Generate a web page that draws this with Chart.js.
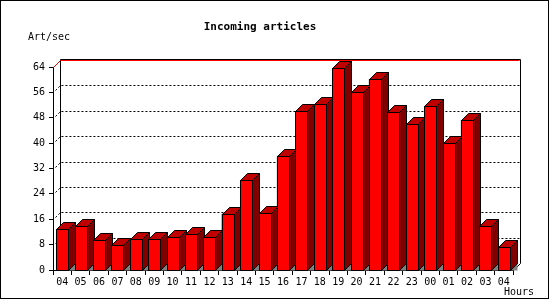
<!DOCTYPE html>
<html>
<head>
<meta charset="utf-8">
<script src="https://cdn.jsdelivr.net/npm/chart.js@4"></script>
<style>
  html, body { margin: 0; padding: 0; background: #fff; }
  #wrap { width: 550px; height: 300px; }
</style>
</head>
<body>
<div id="wrap"><canvas id="chart" width="550" height="300"></canvas></div>
<script>
// Data
const hours = ['04','05','06','07','08','09','10','11','12','13','14','15','16',
               '17','18','19','20','21','22','23','00','01','02','03','04'];
const artPerSec = [12.8, 13.8, 9.4, 7.8, 9.7, 9.7, 10.3, 11.3, 10.3, 17.7, 28.3, 18, 35.9,
                   50, 52.2, 63.6, 56, 60.2, 49.7, 45.9, 51.6, 39.9, 47.2, 14, 7.2];
const yTickValues = [0, 8, 16, 24, 32, 40, 48, 56, 64];

const DEPTH = 7;
const MONO = '"DejaVu Sans Mono", monospace';

// back wall, grid, 3d bars, frame
const wallPlugin = {
  id: 'wall',
  beforeDraw(chart) {
    const ctx = chart.ctx;
    ctx.save();
    ctx.fillStyle = '#fff';
    ctx.fillRect(0, 0, chart.width, chart.height);
    ctx.strokeStyle = '#000';
    ctx.lineWidth = 1;
    ctx.strokeRect(0.5, 0.5, chart.width - 2, chart.height - 2);
    ctx.restore();
  },
  beforeDatasetsDraw(chart) {
    const { ctx, chartArea: a, scales: { y } } = chart;
    const L = Math.round(a.left) + 0.5, R = Math.round(a.right) + 0.5, B = Math.round(a.bottom) + 0.5;
    ctx.save();
    ctx.lineWidth = 1;
    // dotted grid on the back wall
    ctx.strokeStyle = '#000';
    ctx.setLineDash([2, 2]);
    yTickValues.slice(1, -1).forEach(v => {
      const py = Math.round(y.getPixelForValue(v)) + 0.5;
      ctx.beginPath();
      ctx.moveTo(L + 2, py - 2);
      ctx.lineTo(L + DEPTH, py - DEPTH);
      ctx.lineTo(R + DEPTH, py - DEPTH);
      ctx.stroke();
    });
    ctx.setLineDash([]);
    // back wall frame
    const top = Math.round(y.getPixelForValue(64)) + 0.5;
    ctx.beginPath();
    ctx.moveTo(L + DEPTH, B - DEPTH);
    ctx.lineTo(L + DEPTH, top - DEPTH - 1);
    ctx.lineTo(R + DEPTH, top - DEPTH - 1);
    ctx.lineTo(R + DEPTH, B - DEPTH);
    ctx.lineTo(R, B);
    ctx.stroke();
    // red max line
    ctx.strokeStyle = '#ff0000';
    ctx.beginPath();
    ctx.moveTo(L, top);
    ctx.lineTo(L + DEPTH, top - DEPTH);
    ctx.lineTo(R + DEPTH - 1, top - DEPTH);
    ctx.stroke();
    ctx.restore();
  },
  afterDatasetsDraw(chart) {
    const ctx = chart.ctx;
    const meta = chart.getDatasetMeta(0);
    ctx.save();
    ctx.lineWidth = 1;
    ctx.strokeStyle = '#000';
    meta.data.forEach(bar => {
      const l = Math.round(bar.x - bar.width / 2) + 0.5;
      const r = Math.round(bar.x + bar.width / 2) + 0.5;
      const t = Math.round(bar.y) + 0.5;
      const b = Math.round(bar.base) + 0.5;
      const d = DEPTH;
      // floor shadow
      ctx.fillStyle = '#808080';
      ctx.beginPath();
      ctx.moveTo(r, b); ctx.lineTo(r + d, b - d); ctx.lineTo(r + d, b); ctx.closePath();
      ctx.fill();
      // front
      ctx.fillStyle = '#ff0000';
      ctx.fillRect(l, t, r - l, b - t);
      ctx.strokeRect(l, t, r - l, b - t);
      // top
      ctx.fillStyle = '#c00000';
      ctx.beginPath();
      ctx.moveTo(l, t); ctx.lineTo(l + d, t - d); ctx.lineTo(r + d, t - d); ctx.lineTo(r, t); ctx.closePath();
      ctx.fill(); ctx.stroke();
      // side
      ctx.fillStyle = '#800000';
      ctx.beginPath();
      ctx.moveTo(r, t); ctx.lineTo(r + d, t - d); ctx.lineTo(r + d, b - d); ctx.lineTo(r, b); ctx.closePath();
      ctx.fill(); ctx.stroke();
    });
    ctx.restore();
  },
  afterDraw(chart) {
    const ctx = chart.ctx;
    ctx.save();
    ctx.fillStyle = '#000';
    ctx.textBaseline = 'middle';
    ctx.font = 'bold 11px ' + MONO;
    ctx.textAlign = 'center';
    ctx.fillText('Incoming articles', 260, 27);
    ctx.font = '10px ' + MONO;
    ctx.textAlign = 'left';
    ctx.fillText('Art/sec', 28, 37);
    ctx.fillText('Hours', 504, 292);
    ctx.restore();
  }
};

new Chart(document.getElementById('chart'), {
  type: 'bar',
  data: {
    labels: hours,
    datasets: [{
      data: artPerSec,
      backgroundColor: '#ff0000',
      borderColor: '#000',
      borderWidth: 1,
      barThickness: 12
    }]
  },
  options: {
    responsive: false,
    animation: false,
    events: [],
    layout: { padding: { left: 0, right: 37, top: 67, bottom: 0 } },
    plugins: { legend: { display: false }, title: { display: false }, tooltip: { enabled: false } },
    scales: {
      x: {
        afterFit(s) { s.height = 30; },
        grid: { offset: true, drawOnChartArea: false, tickLength: 5, color: '#000' },
        border: { display: true, color: '#000' },
        ticks: { color: '#000', font: { family: MONO, size: 10 }, padding: 1,
                 maxRotation: 0, autoSkip: false }
      },
      y: {
        min: 0, max: 64,
        afterFit(s) { s.width = 53; },
        afterBuildTicks(s) { s.ticks = yTickValues.map(v => ({ value: v })); },
        grid: { drawOnChartArea: false, tickLength: 4, color: '#000' },
        border: { display: true, color: '#000' },
        ticks: { color: '#000', font: { family: MONO, size: 10 }, padding: 4 }
      }
    }
  },
  plugins: [wallPlugin]
});
</script>
</body>
</html>
